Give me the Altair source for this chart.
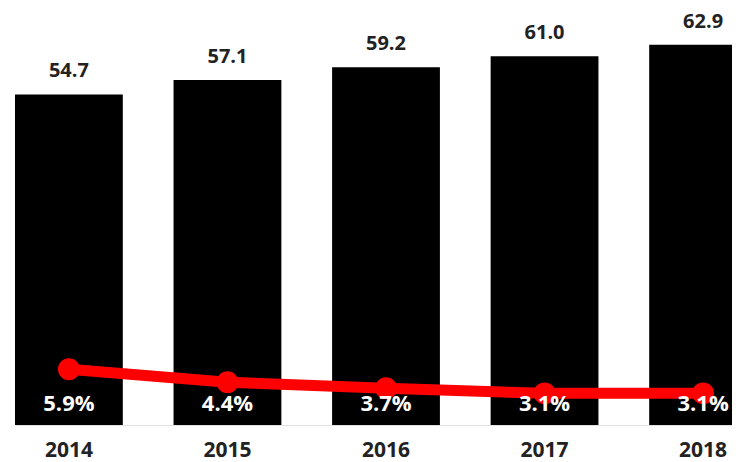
import altair as alt
import pandas as pd

years = ["2014", "2015", "2016", "2017", "2018"]
values = [54.7, 57.1, 59.2, 61.0, 62.9]
value_labels = ["54.7", "57.1", "59.2", "61.0", "62.9"]
growth = [5.9, 4.4, 3.7, 3.1, 3.1]
growth_labels = ["5.9%", "4.4%", "3.7%", "3.1%", "3.1%"]

df = pd.DataFrame({
    "year": years,
    "value": values,
    "vlabel": value_labels,
    "growth": growth,
    "glabel": growth_labels,
})

FONT = "Open Sans"

x = alt.X(
    "year:N",
    sort=years,
    scale=alt.Scale(range=[7, 749], paddingInner=0.32, paddingOuter=0),
    axis=alt.Axis(
        title=None, labelAngle=0, labelFont=FONT, labelFontSize=21,
        labelFontWeight="bold", labelColor="#222222", ticks=False, tickSize=0,
        labelPadding=25, labelBaseline="middle", domainColor="#e2e2e2",
        domainWidth=1, grid=False,
    ),
)

bar_scale = alt.Scale(domain=[0, 69], nice=False, zero=True)
line_scale = alt.Scale(domain=[-0.58, 47.9], nice=False, zero=False)

base = alt.Chart(df)

bars = base.mark_bar(color="#000000", clip=True).encode(
    x=x, y=alt.Y("value:Q", scale=bar_scale, axis=None)
)

vtext = base.mark_text(
    font=FONT, fontSize=20, fontWeight="bold", color="#222222",
    baseline="middle", dy=-23,
).encode(x=x, y=alt.Y("value:Q", scale=bar_scale, axis=None), text="vlabel:N")

line = base.mark_line(color="#ff0000", strokeWidth=11).encode(
    x=x, y=alt.Y("growth:Q", scale=line_scale, axis=None)
)

points = base.mark_circle(color="#ff0000", size=480, opacity=1).encode(
    x=x, y=alt.Y("growth:Q", scale=line_scale, axis=None)
)

ptext = base.mark_text(
    font=FONT, fontSize=22, fontWeight="bold", color="#ffffff",
    baseline="middle", dy=-21,
).encode(x=x, y=alt.YDatum(0, type="quantitative", scale=bar_scale, axis=None), text="glabel:N")

chart = alt.layer(bars, vtext, line, points, ptext).resolve_scale(
    y="independent"
).properties(
    width=724, height=417,
    padding={"left": 0, "top": 0, "right": 0, "bottom": 40},
    autosize=alt.AutoSizeParams(type="none"),
).configure_view(stroke=None)

chart.save("out.html", embed_options={"renderer": "svg", "actions": False})
